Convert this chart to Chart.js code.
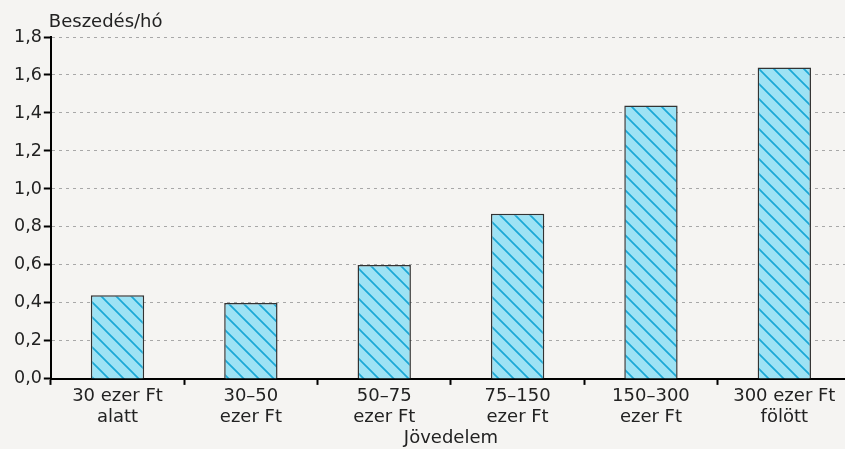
<!DOCTYPE html>
<html>
<head>
<meta charset="utf-8">
<script src="https://cdn.jsdelivr.net/npm/chart.js@4/dist/chart.umd.min.js"></script>
<style>
  html, body { margin: 0; padding: 0; background: #f5f4f2; overflow: hidden; }
  #wrap { position: relative; width: 851px; height: 449px; }
</style>
</head>
<body>
<div id="wrap"><canvas id="chart"></canvas></div>
<script>
// data
const categories = [
  ["30 ezer Ft", "alatt"],
  ["30\u201350", "ezer Ft"],
  ["50\u201375", "ezer Ft"],
  ["75\u2013150", "ezer Ft"],
  ["150\u2013300", "ezer Ft"],
  ["300 ezer Ft", "fölött"],
];
const values = [0.44, 0.40, 0.60, 0.87, 1.44, 1.64];
const yTitle = "Beszedés/hó";
const xTitle = "Jövedelem";

const FONT = "'DejaVu Sans', sans-serif";

function makeHatch() {
  const s = 15;
  const c = document.createElement("canvas");
  c.width = s;
  c.height = s;
  const g = c.getContext("2d");
  g.fillStyle = "#9de2f4";
  g.fillRect(0, 0, s, s);
  g.strokeStyle = "#1aa8d6";
  g.lineWidth = 1.7;
  g.beginPath();
  g.moveTo(-2, -2);
  g.lineTo(s + 2, s + 2);
  g.moveTo(-2, s - 2);
  g.lineTo(2, s + 2);
  g.moveTo(s - 2, -2);
  g.lineTo(s + 2, 2);
  g.stroke();
  return g.createPattern(c, "repeat");
}

// title above the y axis
const topTitle = {
  id: "topTitle",
  afterDraw(chart) {
    const { ctx, chartArea } = chart;
    ctx.save();
    ctx.font = "18px " + FONT;
    ctx.fillStyle = "#222";
    ctx.textAlign = "left";
    ctx.textBaseline = "alphabetic";
    ctx.fillText(yTitle, chartArea.left - 2, chartArea.top - 10);
    ctx.restore();
  },
};

const ctx = document.getElementById("chart").getContext("2d");
new Chart(ctx, {
  type: "bar",
  data: {
    labels: categories,
    datasets: [
      {
        data: values,
        backgroundColor: makeHatch(),
        borderColor: "#333",
        borderWidth: 1.5,
        barPercentage: 0.4,
        categoryPercentage: 1,
      },
    ],
  },
  options: {
    responsive: true,
    maintainAspectRatio: false,
    animation: false,
    layout: { padding: { top: 37, left: 12, right: 0, bottom: 0 } },
    plugins: {
      legend: { display: false },
      tooltip: { enabled: false },
    },
    scales: {
      x: {
        grid: {
          display: true,
          drawOnChartArea: false,
          drawTicks: true,
          tickLength: 6,
          tickColor: "#000",
          tickWidth: 2,
          offset: true,
        },
        border: { display: true, color: "#000", width: 2 },
        ticks: {
          color: "#222",
          font: { family: FONT, size: 18, lineHeight: 1.15 },
          padding: 1,
          maxRotation: 0,
        },
        title: {
          display: true,
          text: xTitle,
          color: "#222",
          font: { family: FONT, size: 18, lineHeight: 1.15 },
          padding: { top: 0, bottom: 0 },
        },
      },
      y: {
        min: 0,
        max: 1.8,
        grid: {
          color: "#a8a8a8",
          lineWidth: 1,
          tickColor: "#000",
          tickWidth: 2,
          tickLength: 7,
        },
        border: { display: true, color: "#000", width: 2, dash: [3, 4] },
        ticks: {
          stepSize: 0.2,
          color: "#222",
          font: { family: FONT, size: 17.5 },
          padding: 2,
          callback: (v) => v.toFixed(1).replace(".", ","),
        },
      },
    },
  },
  plugins: [topTitle],
});
</script>
</body>
</html>
